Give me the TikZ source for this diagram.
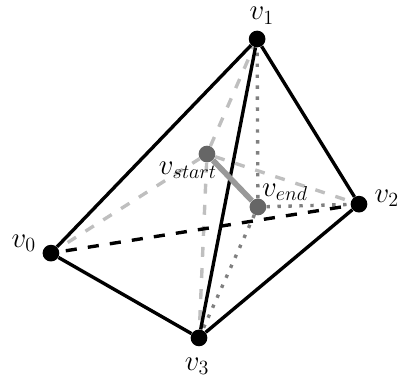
\documentclass[tikz,border=0pt]{standalone}
\tikzset{
    vertex/.style={circle, fill=black, inner sep=0pt, minimum size=0.42cm},
    inner/.style={circle, fill=black!60, inner sep=0pt, minimum size=0.42cm},
    vlabel/.style={inner sep=0pt, font=\huge},
    edge/.style={line width=0.085cm},
    hidden/.style={line width=0.085cm, dash pattern=on 0.28cm off 0.28cm, dash phase=0.4cm},
    greydash/.style={line width=0.085cm, black!25, dash pattern=on 0.25cm off 0.28cm},
    greydot/.style={line width=0.085cm, black!50, dash pattern=on 0.085cm off 0.19cm}
}
\begin{document}
\begin{tikzpicture}
    \useasboundingbox (0,0) rectangle (10,9.6);
    \node[vertex] (v0) at (1.28,3.24) {};
    \node[vertex] (v1) at (6.46,8.62) {};
    \node[vertex] (v2) at (9.02,4.47) {};
    \node[vertex] (v3) at (5.0,1.11) {};
    \node[inner] (vstart) at (5.2,5.73) {};
    \node[inner] (vend) at (6.48,4.40) {};
    \draw[greydash, dash phase=0.25cm] (v0) -- (vstart);
    \draw[greydash] (vstart) -- (v1);
    \draw[greydash] (vstart) -- (v2);
    \draw[greydash] (vstart) -- (v3);
    \draw[greydot] (vend) -- (v1);
    \draw[greydot] (vend) -- (v2);
    \draw[greydot] (vend) -- (v3);
    \draw[hidden] (v0) -- (v2);
    \draw[edge] (v0) -- (v1);
    \draw[edge] (v1) -- (v2);
    \draw[edge] (v2) -- (v3);
    \draw[edge] (v3) -- (v0);
    \draw[edge] (v1) -- (v3);
    \draw[line width=0.14cm, black!40] (vstart) -- (vend);
    \node[vlabel] (l0) at (0.6,3.49) {$v_0$};
    \node[vlabel] (l1) at (6.58,9.2) {$v_1$};
    \node[vlabel] (l2) at (9.72,4.62) {$v_2$};
    \node[vlabel] (l3) at (4.95,0.4) {$v_3$};
    \node[vlabel] (lstart) at (4.72,5.33) {$v_{start}$};
    \node[vlabel] (lend) at (7.16,4.77) {$v_{end}$};
\end{tikzpicture}
\end{document}
